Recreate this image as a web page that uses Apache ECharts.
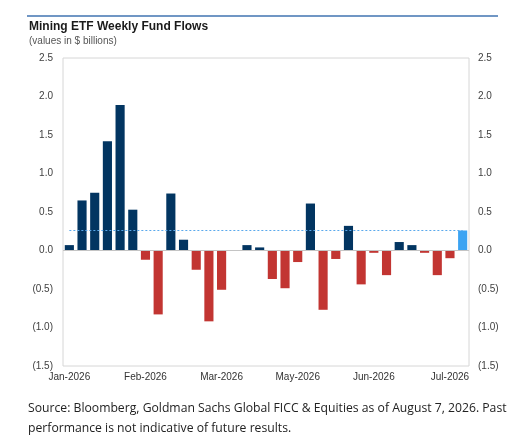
<!DOCTYPE html>
<html>
<head>
	<meta charset="utf-8">
	<title>Mining ETF Weekly Fund Flows</title>
	<style>
		* { margin: 0; padding: 0; box-sizing: border-box; }
		body { background: #fff; overflow: hidden; }
		#chart { width: 532px; height: 442px; }
	</style>
	<script src="https://cdn.jsdelivr.net/npm/echarts@6/dist/echarts.min.js"></script>
</head>
<body>
<div id="chart"></div>
<script>
	// weekly flows, $ billions, Jan-2026 .. latest week
	var weeks = [];
	for (var w = 1; w <= 32; w++) weeks.push('W' + w);
	var flows = [
		0.07, 0.65, 0.75, 1.42, 1.89, 0.53, -0.12, -0.83,
		0.74, 0.14, -0.25, -0.92, -0.51, 0, 0.07, 0.04,
		-0.37, -0.49, -0.15, 0.61, -0.77, -0.11, 0.32, -0.44,
		-0.03, -0.32, 0.11, 0.07, -0.03, -0.32, -0.10, 0.26
	];
	var average = 0.26;
	var monthLabels = ['Jan-2026', 'Feb-2026', 'Mar-2026', 'May-2026', 'Jun-2026', 'Jul-2026'];
	var monthIdx = [0, 6, 12, 18, 24, 30];

	var NAVY = '#023561', RED = '#c23532', LIGHT = '#3ba3f2';

	function fmt(v) {
		var s = Math.abs(v).toFixed(1);
		return v < 0 ? '(' + s + ')' : s;
	}

	var barData = flows.map(function (v, i) {
		var c = i === flows.length - 1 ? LIGHT : (v < 0 ? RED : NAVY);
		return { value: v, itemStyle: { color: c } };
	});

	var yBase = {
		type: 'value', min: -1.5, max: 2.5, interval: 0.5,
		axisLine: { show: false }, axisTick: { show: false }, splitLine: { show: false }
	};

	var chart = echarts.init(document.getElementById('chart'));
	chart.setOption({
		animation: false,
		backgroundColor: '#fff',
		grid: {
			left: 63, right: 63, top: 58, bottom: 76,
			outerBoundsMode: 'none', containLabel: false,
			show: true, borderColor: '#d6d6d6', borderWidth: 1
		},
		graphic: [
			{ type: 'rect', shape: { x: 27, y: 15, width: 471, height: 2 }, style: { fill: '#7096c4' } },
			{ type: 'text', left: 29, top: 21, style: { text: 'Mining ETF Weekly Fund Flows', font: 'bold 12px "Liberation Sans", Arial', fill: '#1a1a1a' } },
			{ type: 'text', left: 29, top: 36, style: { text: '(values in $ billions)', font: '10px "Liberation Sans", Arial', fill: '#555' } },
			{ type: 'text', left: 28, top: 399, style: {
				text: 'Source: Bloomberg, Goldman Sachs Global FICC & Equities as of August 7, 2026. Past\nperformance is not indicative of future results.',
				font: '12.2px "Open Sans"', lineHeight: 20, fill: '#222' } }
		],
		xAxis: {
			type: 'category', data: weeks,
			axisLine: { show: false, onZero: false },
			axisTick: { show: false },
			axisLabel: {
				interval: 0, margin: 6, color: '#333', fontSize: 10, fontFamily: '"Liberation Sans", Arial',
				formatter: function (v, i) {
					var k = monthIdx.indexOf(i);
					return k >= 0 ? monthLabels[k] : '';
				}
			}
		},
		yAxis: [
			Object.assign({}, yBase, {
				position: 'left',
				axisLabel: { formatter: fmt, color: '#404040', fontSize: 10, margin: 10, fontFamily: '"Liberation Sans", Arial' }
			}),
			Object.assign({}, yBase, {
				position: 'right',
				axisLabel: { formatter: fmt, color: '#404040', fontSize: 10, margin: 9, fontFamily: '"Liberation Sans", Arial' }
			})
		],
		series: [{
			type: 'bar', data: barData, barCategoryGap: '28%',
			markLine: {
				silent: true, symbol: 'none', label: { show: false },
				data: [
					{ yAxis: 0, lineStyle: { color: '#c4c4c4', type: 'solid', width: 1 } },
					[{ coord: [0, average], lineStyle: { color: '#5aa9ec', type: [2, 2], width: 1 } }, { coord: [flows.length - 1, average] }]
				]
			}
		}]
	});
</script>
</body>
</html>
